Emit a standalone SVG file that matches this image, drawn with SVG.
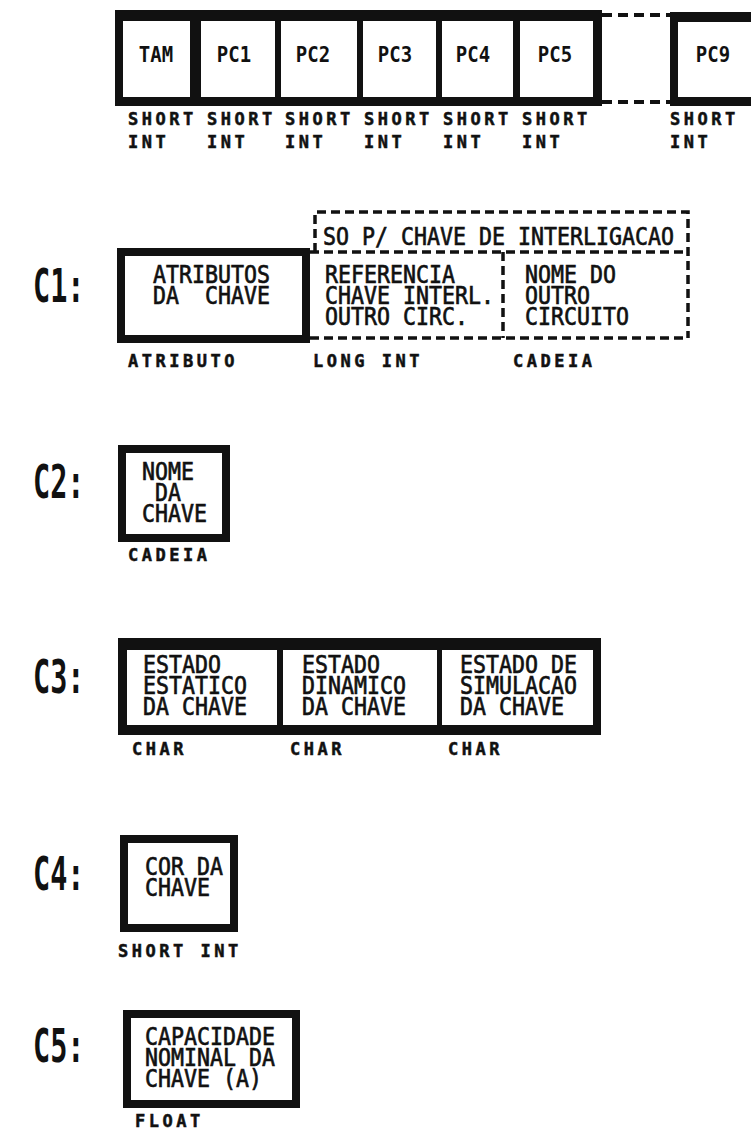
<svg xmlns="http://www.w3.org/2000/svg" width="751" height="1130" viewBox="0 0 751 1130">
<style>
.bg{fill:#fff}
.blk{fill:#111}
.wht{fill:#fff}
.box{fill:#fff;stroke:#111;stroke-width:8}
.dash{fill:none;stroke:#111;stroke-width:3.5;stroke-dasharray:9 5}
.dash4{fill:none;stroke:#111;stroke-width:4;stroke-dasharray:10 6}
.t{font-family:"DejaVu Sans Mono","Liberation Mono",monospace;font-size:21.6px;fill:#111;stroke:#111;stroke-width:0.6;white-space:pre}
.c{font-family:"DejaVu Sans Mono","Liberation Mono",monospace;font-size:19px;font-weight:bold;fill:#111;text-anchor:middle}
.l{font-family:"DejaVu Sans Mono","Liberation Mono",monospace;font-size:17px;font-weight:bold;fill:#111;letter-spacing:3.5px;stroke:#111;stroke-width:0.5;white-space:pre}
.big{font-family:"DejaVu Sans Mono","Liberation Mono",monospace;font-size:46px;font-weight:bold;fill:#111}
</style>
<rect class="bg" x="0" y="0" width="751" height="1130"/>

<g id="header">
  <rect class="blk" x="115" y="10" width="487" height="96"/>
  <g id="cell-tam"><rect class="wht" x="123" y="21" width="67" height="76"/><text class="c" transform="translate(156,62) scale(1,1.12)">TAM</text><text class="l" x="128" y="125">SHORT</text><text class="l" x="128" y="148">INT</text></g>
  <g id="cell-pc1"><rect class="wht" x="201" y="21" width="74" height="76"/><text class="c" transform="translate(234,62) scale(1,1.12)">PC1</text><text class="l" x="207" y="125">SHORT</text><text class="l" x="207" y="148">INT</text></g>
  <g id="cell-pc2"><rect class="wht" x="281" y="21" width="76" height="76"/><text class="c" transform="translate(313,62) scale(1,1.12)">PC2</text><text class="l" x="285" y="125">SHORT</text><text class="l" x="285" y="148">INT</text></g>
  <g id="cell-pc3"><rect class="wht" x="363" y="21" width="73" height="76"/><text class="c" transform="translate(395,62) scale(1,1.12)">PC3</text><text class="l" x="364" y="125">SHORT</text><text class="l" x="364" y="148">INT</text></g>
  <g id="cell-pc4"><rect class="wht" x="442" y="21" width="71" height="76"/><text class="c" transform="translate(473,62) scale(1,1.12)">PC4</text><text class="l" x="443" y="125">SHORT</text><text class="l" x="443" y="148">INT</text></g>
  <g id="cell-pc5"><rect class="wht" x="520" y="21" width="73" height="76"/><text class="c" transform="translate(555,62) scale(1,1.12)">PC5</text><text class="l" x="522" y="125">SHORT</text><text class="l" x="522" y="148">INT</text></g>
  <g id="cell-gap"><line class="dash4" x1="602" y1="15" x2="670" y2="15"/><line class="dash4" x1="602" y1="102" x2="670" y2="102"/></g>
  <g id="cell-pc9"><rect class="blk" x="670" y="12" width="90" height="94"/><rect class="wht" x="678" y="22" width="80" height="75"/><text class="c" transform="translate(713,62) scale(1,1.12)">PC9</text><text class="l" x="670" y="125">SHORT</text><text class="l" x="670" y="148">INT</text></g>
</g>

<g id="c1">
  <text class="big" transform="translate(33,302) scale(0.62,1)">C1:</text>
  <g id="c1-atributos"><rect class="box" x="121" y="252" width="185" height="87"/>
    <text class="t" transform="translate(153,283) scale(1,1.17)"><tspan x="0" y="0">ATRIBUTOS</tspan><tspan x="0" y="17.95">DA  CHAVE</tspan></text>
    <text class="l" x="128" y="367">ATRIBUTO</text></g>
  <g id="c1-interlig">
    <path class="dash" d="M315,252 V212 H688 V338 M310,252 H688 M310,338 H688 M503,252 V338"/>
    <text class="t" transform="translate(323,245) scale(1,1.17)">SO P/ CHAVE DE INTERLIGACAO</text>
  </g>
  <g id="c1-referencia">
    <text class="t" transform="translate(325,283) scale(1,1.17)"><tspan x="0" y="0">REFERENCIA</tspan><tspan x="0" y="17.95">CHAVE INTERL.</tspan><tspan x="0" y="35.9">OUTRO CIRC.</tspan></text>
    <text class="l" x="313" y="367">LONG INT</text></g>
  <g id="c1-nome">
    <text class="t" transform="translate(525,283) scale(1,1.17)"><tspan x="0" y="0">NOME DO</tspan><tspan x="0" y="17.95">OUTRO</tspan><tspan x="0" y="35.9">CIRCUITO</tspan></text>
    <text class="l" x="513" y="367">CADEIA</text></g>
</g>

<g id="c2">
  <text class="big" transform="translate(33,498) scale(0.62,1)">C2:</text>
  <g id="c2-nome"><rect class="box" x="122" y="449" width="104" height="89"/>
    <text class="t" transform="translate(142,480) scale(1,1.17)"><tspan x="0" y="0">NOME</tspan><tspan x="0" y="17.95"> DA</tspan><tspan x="0" y="35.9">CHAVE</tspan></text>
    <text class="l" x="128" y="561">CADEIA</text></g>
</g>

<g id="c3">
  <text class="big" transform="translate(33,693) scale(0.62,1)">C3:</text>
  <rect class="blk" x="118" y="638" width="483" height="97"/>
  <g id="c3-estatico"><rect class="wht" x="127" y="650" width="150" height="75"/>
    <text class="t" transform="translate(143,673) scale(1,1.17)"><tspan x="0" y="0">ESTADO</tspan><tspan x="0" y="17.95">ESTATICO</tspan><tspan x="0" y="35.9">DA CHAVE</tspan></text>
    <text class="l" x="132" y="755">CHAR</text></g>
  <g id="c3-dinamico"><rect class="wht" x="283" y="650" width="154" height="75"/>
    <text class="t" transform="translate(302,673) scale(1,1.17)"><tspan x="0" y="0">ESTADO</tspan><tspan x="0" y="17.95">DINAMICO</tspan><tspan x="0" y="35.9">DA CHAVE</tspan></text>
    <text class="l" x="290" y="755">CHAR</text></g>
  <g id="c3-simulacao"><rect class="wht" x="442" y="650" width="151" height="75"/>
    <text class="t" transform="translate(460,673) scale(1,1.17)"><tspan x="0" y="0">ESTADO DE</tspan><tspan x="0" y="17.95">SIMULACAO</tspan><tspan x="0" y="35.9">DA CHAVE</tspan></text>
    <text class="l" x="448" y="755">CHAR</text></g>
</g>

<g id="c4">
  <text class="big" transform="translate(33,890) scale(0.62,1)">C4:</text>
  <g id="c4-cor"><rect class="box" x="124" y="839" width="110" height="89"/>
    <text class="t" transform="translate(145,875) scale(1,1.17)"><tspan x="0" y="0">COR DA</tspan><tspan x="0" y="17.95">CHAVE</tspan></text>
    <text class="l" x="118" y="957">SHORT INT</text></g>
</g>

<g id="c5">
  <text class="big" transform="translate(33,1062) scale(0.62,1)">C5:</text>
  <g id="c5-capacidade"><rect class="box" x="127" y="1014" width="169" height="90"/>
    <text class="t" transform="translate(145,1045) scale(1,1.17)"><tspan x="0" y="0">CAPACIDADE</tspan><tspan x="0" y="17.95">NOMINAL DA</tspan><tspan x="0" y="35.9">CHAVE (A)</tspan></text>
    <text class="l" x="135" y="1127">FLOAT</text></g>
</g>

<g id="connectors"></g>
</svg>
